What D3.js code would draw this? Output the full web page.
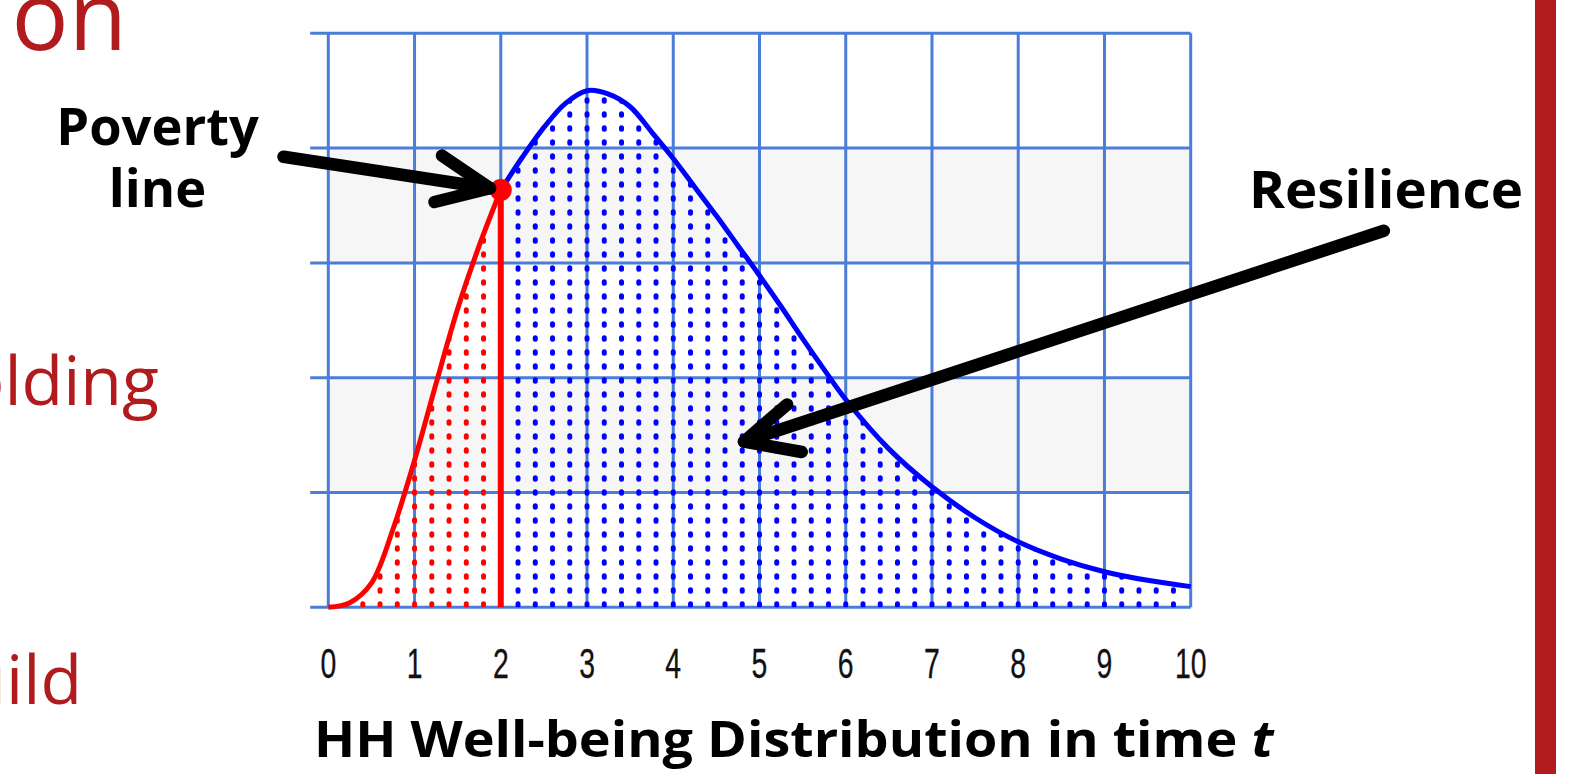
<!DOCTYPE html>
<html><head><meta charset="utf-8">
<script src="https://cdn.jsdelivr.net/npm/d3@7"></script>
<style>html,body{margin:0;padding:0;background:#fff;overflow:hidden} text{white-space:pre}</style>
</head><body>
<svg id="c" width="1591" height="774"></svg>
<script>
// ---------------- data ----------------
const xTicks = [0,1,2,3,4,5,6,7,8,9,10];
const xTickLabels = ["0","1","2","3","4","5","6","7","8","9","10"];
const yGrid = [0,1,2,3,4,5];
const shadedRows = [[3,4],[1,2]];
// below the poverty line (red part of the distribution)
const belowX = [0, 0.25, 0.5, 0.75, 1, 1.25, 1.5, 1.75, 2];
const belowY = [0, 0.04, 0.21, 0.68, 1.28, 1.95, 2.6, 3.15, 3.635];
// above the poverty line (blue part of the distribution)
const aboveX = [2, 2.25, 2.5, 2.75, 3, 3.25, 3.5, 3.75, 4, 4.25, 4.5, 4.75, 5, 5.25, 5.5, 5.75, 6, 6.5, 7, 7.5, 8, 8.5, 9, 9.5, 10];
const aboveY = [3.635, 3.92, 4.18, 4.39, 4.5, 4.47, 4.36, 4.14, 3.91, 3.66, 3.41, 3.15, 2.89, 2.62, 2.34, 2.07, 1.81, 1.38, 1.05, 0.78, 0.57, 0.42, 0.31, 0.235, 0.18];
const povertyX = 2, povertyY = 3.635;
const axisTitle = "HH Well-being Distribution in time ";
const axisTitleVar = "t";
const labelPoverty = ["Poverty", "line"];
const labelResilience = "Resilience";
// arrow annotations in data units: [shaft start, tip, wing1, wing2]
const povertyArrow = [[-0.52, 3.925], [1.875, 3.65], [1.318, 3.935], [1.231, 3.53]];
const resilienceArrow = [[12.24, 3.28], [4.82, 1.443], [5.32, 1.767], [5.49, 1.353]];
const sideTexts = [{t:"on", right:127, base:50, size:95}, {t:"olding", right:159, base:405, size:68}, {t:"uild", right:82, base:704, size:68}];

// ---------------- layout ----------------
const svg = d3.select("#c");
const x = d3.scaleLinear().domain([0,10]).range([328.3,1190.7]);
const y = d3.scaleLinear().domain([0,5]).range([607.3,33.3]);
const gridBlue = "#4a7dd8", red = "#ff0000", blue = "#0000ff", slideRed = "#b21b1e";

// faint panel
svg.append("rect").attr("x", x(-0.21)).attr("y", y(5.13)).attr("width", x(10.99)-x(-0.21)).attr("height", y(-0.9)-y(5.13)).attr("fill", "#fefefe");

// shaded rows
svg.selectAll("rect.row").data(shadedRows).join("rect").attr("class","row")
  .attr("x", x(0)).attr("width", x(10)-x(0))
  .attr("y", d => y(d[1])).attr("height", d => y(d[0]) - y(d[1]))
  .attr("fill", "#f6f6f6");

// grid
svg.selectAll("line.h").data(yGrid).join("line").attr("class","h")
  .attr("x1", x(-0.21)).attr("x2", x(10)).attr("y1", d=>y(d)).attr("y2", d=>y(d))
  .attr("stroke", gridBlue).attr("stroke-width", 3);
svg.selectAll("line.v").data(xTicks).join("line").attr("class","v")
  .attr("x1", d=>x(d)).attr("x2", d=>x(d)).attr("y1", y(5)).attr("y2", y(0))
  .attr("stroke", gridBlue).attr("stroke-width", 3);

// clip paths for dotted fill
const belowPts = belowX.map((v,i)=>[v, belowY[i]]);
const abovePts = aboveX.map((v,i)=>[v, aboveY[i]]);
const crv = d3.curveCatmullRom.alpha(0.5);
const area = d3.area().x(d=>x(d[0])).y0(y(0)).y1(d=>y(d[1])).curve(crv);
const defs = svg.append("defs");
defs.append("clipPath").attr("id","clipR").append("path").attr("d", area(belowPts));
defs.append("clipPath").attr("id","clipB").append("path").attr("d", area(abovePts));

const cols = d3.range(1, 50).map(i => i*0.2);
function dotted(clip, color, filter){
  svg.append("g").attr("clip-path", `url(#${clip})`)
    .selectAll("line").data(cols.filter(filter)).join("line")
    .attr("x1", d=>x(d)).attr("x2", d=>x(d)).attr("y1", y(0)-2).attr("y2", y(5))
    .attr("stroke", color).attr("stroke-width", 5).attr("stroke-linecap","round")
    .attr("stroke-dasharray", "1.5 12.5");
}
dotted("clipR", red, d => d < 1.95);
dotted("clipB", blue, d => d > 2.05);

// curves
const line = d3.line().x(d=>x(d[0])).y(d=>y(d[1])).curve(crv);
svg.append("path").attr("d", line(abovePts)).attr("fill","none").attr("stroke", blue).attr("stroke-width", 5);
svg.append("path").attr("d", line(belowPts)).attr("fill","none").attr("stroke", red).attr("stroke-width", 5);
svg.append("line").attr("x1", x(povertyX)).attr("x2", x(povertyX)).attr("y1", y(0)).attr("y2", y(povertyY))
  .attr("stroke", red).attr("stroke-width", 6);
svg.append("circle").attr("cx", x(povertyX)).attr("cy", y(povertyY)).attr("r", 11).attr("fill", red);

// arrows
function arrow(a){
  const p = a.map(d => [x(d[0]), y(d[1])]);
  const g = svg.append("g").attr("stroke","#000").attr("stroke-width",12.5).attr("stroke-linecap","round").attr("stroke-linejoin","round").attr("fill","none");
  g.append("path").attr("d", d3.line()([p[0], p[1]]));
  g.append("path").attr("d", d3.line()([p[2], p[1], p[3]]));
}
arrow(povertyArrow);
arrow(resilienceArrow);

// tick labels
svg.selectAll("text.tick").data(xTicks).join("text").attr("class","tick")
  .attr("transform", d => `translate(${x(d)},678) scale(0.66,1)`)
  .attr("text-anchor","middle").attr("font-family","'Liberation Sans', Arial, sans-serif")
  .attr("font-size", 43).attr("fill","#111").attr("stroke","#111").attr("stroke-width",0.3)
  .text((d,i) => xTickLabels[i]);

function fitText(t, x0, x1, yb){
  const bb = t.node().getBBox();
  const s = (x1-x0)/bb.width;
  t.attr("transform", `translate(${x0 - bb.x*s},${yb}) scale(${s},1)`);
  return s;
}
const bold = "'Open Sans', 'Noto Sans', sans-serif";

// axis title
const tt = svg.append("text").attr("font-family", bold).attr("font-weight", 700).attr("font-size", 51).attr("fill","#000");
tt.append("tspan").text(axisTitle);
tt.append("tspan").attr("font-style","italic").text(axisTitleVar);
fitText(tt, 314, 1275, 756.7);

// poverty label (two lines in one text)
const pv = svg.append("text").attr("font-family", bold).attr("font-weight", 700).attr("font-size", 52).attr("fill","#000").attr("text-anchor","middle");
pv.append("tspan").attr("x", 0).attr("y", 0).text(labelPoverty[0]);
const w0 = pv.node().getBBox().width;
const sp = (259 - 56) / w0;
pv.append("tspan").attr("x", 0).attr("y", 61.7).text(labelPoverty[1]);
pv.attr("transform", `translate(157.5,145) scale(${sp},1)`);

const r1 = svg.append("text").attr("font-family", bold).attr("font-weight", 700).attr("font-size", 52).attr("fill","#000").text(labelResilience);
fitText(r1, 1249, 1523, 208.3);

// partial slide text on the left
svg.selectAll("text.side").data(sideTexts).join("text").attr("class","side")
  .attr("x", d=>d.right).attr("y", d=>d.base).attr("text-anchor","end")
  .attr("font-family", "'Open Sans', 'Noto Sans', sans-serif").attr("font-size", d=>d.size)
  .attr("fill", slideRed).text(d=>d.t);

// slide border bar on the right
svg.append("rect").attr("x", 1535).attr("y", 0).attr("width", 21).attr("height", 774).attr("fill", slideRed);
</script>
</body></html>
